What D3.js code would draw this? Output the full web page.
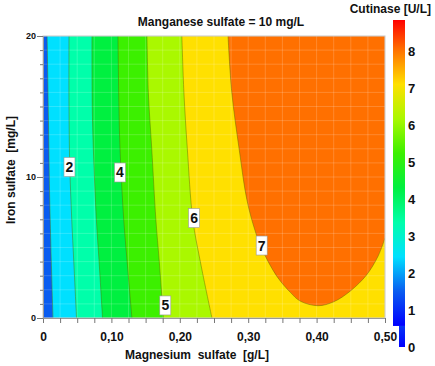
<!DOCTYPE html>
<html><head><meta charset="utf-8">
<script src="https://cdn.jsdelivr.net/npm/d3@7"></script>
<style>
body{margin:0;background:#fff;}
text{font-family:"Liberation Sans",Arial,sans-serif;font-weight:bold;fill:#111;}
</style></head>
<body><svg id="c" width="435" height="366"></svg>
<script>
// ---- data ----
const title = "Manganese sulfate = 10 mg/L";
const xTitle = "Magnesium  sulfate  [g/L]";
const yTitle = "Iron sulfate  [mg/L]";
const cbTitle = "Cutinase [U/L]";
const xDomain = [0, 0.5];
const yDomain = [0, 20];
const xTickValues = d3.range(0, 0.5001, 0.025);
const xTickLabels = [0, 0.1, 0.2, 0.3, 0.4, 0.5];
const yTickValues = d3.range(0, 21, 1);
const yTickLabels = [0, 10, 20];
const cbTicks = [0,1,2,3,4,5,6,7,8];
const cbMax = 8.86;
const cbStops = [0,1,2,3,4,5,6,7,8,8.86];
const cbColors = ["#0000ff","#0a5cf0","#00e0ff","#00ffaa","#00f040","#3cf000","#aaf800","#ffe000","#ff7000","#ff0000"];
const levels = [1,2,3,4,5,6,7];
// contour lines [Magnesium g/L, Iron mg/L]
const contour1 = [[0.006,20],[0.008,14],[0.010,8],[0.0146,0]];
const contour2 = [[0.038,20],[0.038,15],[0.039,11],[0.042,7],[0.045,4],[0.049,0]];
const contour3 = [[0.0716,20],[0.072,15],[0.0736,12],[0.078,7],[0.082,4],[0.087,0]];
const contour4 = [[0.1096,20],[0.111,15],[0.1126,12],[0.118,7],[0.123,4],[0.130,0]];
const contour5 = [[0.152,20],[0.154,16],[0.159,12],[0.165,7],[0.170,4],[0.176,0]];
const contour6 = [[0.203,20],[0.206,16],[0.211,12],[0.219,7],[0.230,4],[0.247,0]];
const contour7 = [[0.2705,20],[0.276,16],[0.287,11.9],[0.298,8.4],[0.310,6.2],[0.320,4.9],[0.342,2.95],[0.362,1.8],[0.376,1.2],[0.402,0.87],[0.425,1.15],[0.449,1.9],[0.473,3.05],[0.49,4.4],[0.5,5.67]];
const contours = [contour1,contour2,contour3,contour4,contour5,contour6,contour7];
const labelLevels = [2,4,5,6,7];
const labelPos = [[0.0387,10.71],[0.1126,10.32],[0.1788,0.89],[0.2208,7.09],[0.3197,5.14]];

// ---- layout ----
const svg = d3.select("#c");
const L=43,R=385,T=36,B=318;
const x = d3.scaleLinear(xDomain,[L,R]);
const y = d3.scaleLinear(yDomain,[B,T]);
const col = d3.scaleLinear(cbStops,cbColors);

svg.append("clipPath").attr("id","pc").append("rect")
  .attr("x",L).attr("y",T).attr("width",R-L).attr("height",B-T);
const plot = svg.append("g").attr("clip-path","url(#pc)");

// base band (below level 1)
plot.append("rect").attr("x",L).attr("y",T).attr("width",R-L).attr("height",B-T)
  .attr("fill",col(levels[0]));
const line = d3.line().x(d=>x(d[0])).y(d=>y(d[1])).curve(d3.curveCatmullRom);
contours.forEach((pts,i)=>{
  const last = pts[pts.length-1];
  const closure = last[1]===yDomain[0] ? [[xDomain[1],yDomain[0]],[xDomain[1],yDomain[1]]] : [[xDomain[1],yDomain[1]]];
  let d = line(pts) + closure.map(c=>"L"+x(c[0])+","+y(c[1])).join("") + "Z";
  plot.append("path").attr("d",d).attr("fill",col(levels[i]+1));
});
// faint grid
plot.append("g").selectAll("line").data(xTickValues).join("line")
  .attr("x1",d=>x(d)).attr("x2",d=>x(d)).attr("y1",T).attr("y2",B)
  .attr("stroke","#fff").attr("stroke-opacity",0.18).attr("stroke-width",1);
plot.append("g").selectAll("line").data(yTickValues).join("line")
  .attr("y1",d=>y(d)).attr("y2",d=>y(d)).attr("x1",L).attr("x2",R)
  .attr("stroke","#fff").attr("stroke-opacity",0.18).attr("stroke-width",1);
// contour lines
contours.forEach(pts=>{
  plot.append("path").attr("d",line(pts)).attr("fill","none")
    .attr("stroke","#5a6a00").attr("stroke-opacity",0.45).attr("stroke-width",1);
});
// contour labels
const lg = svg.append("g");
labelLevels.forEach((lv,i)=>{
  const cx = x(labelPos[i][0]), cy = y(labelPos[i][1]);
  lg.append("rect").attr("x",cx-5.5).attr("y",cy-9.5).attr("width",11).attr("height",19)
    .attr("fill","#fff").attr("stroke","#999").attr("stroke-width",0.6);
  lg.append("text").attr("x",cx).attr("y",cy+5).attr("text-anchor","middle")
    .attr("font-size",14).text(lv);
});
// plot border
svg.append("rect").attr("x",L).attr("y",T).attr("width",R-L).attr("height",B-T)
  .attr("fill","none").attr("stroke","#c8c8c8").attr("stroke-width",1);

// axes
const xAxis = d3.axisBottom(x).tickValues(xTickValues).tickSize(5)
  .tickFormat(d=> xTickLabels.some(v=>Math.abs(v-d)<1e-9) ? (d===0?"0":d3.format(".2f")(d).replace(".",",")) : "");
const gx = svg.append("g").attr("transform",`translate(0,${B})`).call(xAxis);
gx.select(".domain").attr("stroke","#999");
gx.selectAll(".tick line").attr("stroke","#777");
gx.selectAll("text").attr("font-size",12).attr("dy","1.25em").attr("fill","#111");
const yAxis = d3.axisLeft(y).tickValues(yTickValues)
  .tickSize(3).tickFormat(d=> yTickLabels.includes(d) ? d : "");
const gy = svg.append("g").attr("transform",`translate(${L},0)`).call(yAxis);
gy.select(".domain").attr("stroke","#999");
gy.selectAll(".tick line").attr("stroke","#777").attr("x2",d=>yTickLabels.includes(d)?-6:-3);
gy.selectAll("text").attr("font-size",9).attr("x",-7).attr("fill","#111");

// titles
svg.append("text").attr("x",221).attr("y",26).attr("text-anchor","middle").attr("font-size",12).text(title);
svg.append("text").attr("x",197).attr("y",359).attr("text-anchor","middle").attr("font-size",12)
  .style("white-space","pre").text(xTitle);
svg.append("text").attr("transform","translate(15,170) rotate(-90)").attr("text-anchor","middle")
  .attr("font-size",12).style("white-space","pre").text(yTitle);
svg.append("text").attr("x",431).attr("y",13).attr("text-anchor","end").attr("font-size",12).text(cbTitle);

// colour bar
const cy = d3.scaleLinear([0,cbMax],[347,20]);
const grad = svg.append("defs").append("linearGradient").attr("id","cbg")
  .attr("x1",0).attr("x2",0).attr("y1",1).attr("y2",0);
cbStops.forEach((s,i)=>grad.append("stop").attr("offset",s/cbMax).attr("stop-color",cbColors[i]));
const cbLow = 0.57;
svg.append("rect").attr("x",393).attr("y",cy(cbMax)).attr("width",12).attr("height",cy(cbLow)-cy(cbMax))
  .attr("fill","url(#cbg)");
// narrow lower part
const grad2 = svg.select("defs").append("linearGradient").attr("id","cbg2")
  .attr("x1",0).attr("x2",0).attr("y1",1).attr("y2",0);
grad2.append("stop").attr("offset",0).attr("stop-color",col(0));
grad2.append("stop").attr("offset",1).attr("stop-color",col(cbLow));
svg.append("rect").attr("x",399).attr("y",cy(cbLow)).attr("width",6).attr("height",cy(0)-cy(cbLow))
  .attr("fill","url(#cbg2)");
svg.append("g").selectAll("text").data(cbTicks).join("text")
  .attr("x",408).attr("y",d=>cy(d)+4.5).attr("font-size",13).text(d=>d);
</script></body></html>
